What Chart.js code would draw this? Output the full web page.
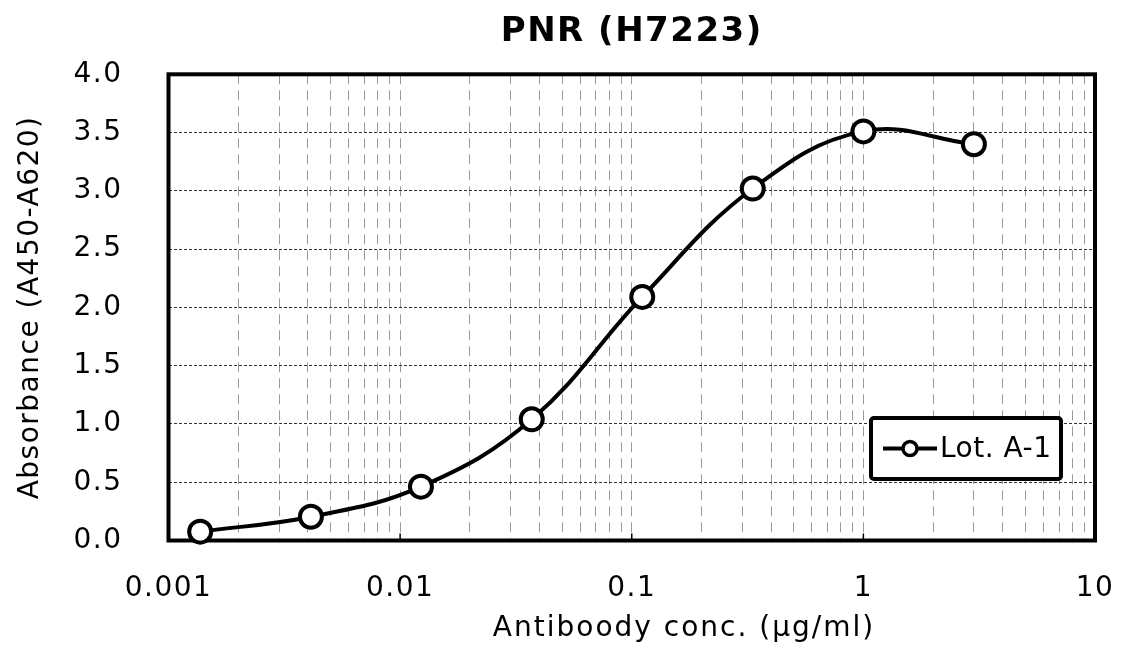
<!DOCTYPE html>
<html>
<head>
<meta charset="utf-8">
<title>PNR (H7223)</title>
<script src="https://cdn.jsdelivr.net/npm/chart.js@4.4.1/dist/chart.umd.min.js"></script>
<style>
    html, body { margin: 0; padding: 0; background: #fff; }
    canvas { display: block; }
</style>
</head>
<body>
<canvas id="elisaChart" width="1123" height="652"></canvas>
<script>
// Data (3-fold dilution series)
const concentrations = [0.00137, 0.00412, 0.0123, 0.037, 0.111, 0.333, 1, 3];
const absorbance = [0.076, 0.204, 0.462, 1.04, 2.09, 3.02, 3.51, 3.40];
const seriesLabel = 'Lot. A-1';

// Axis ticks
const decadeTicks = [0.001, 0.01, 0.1, 1, 10];
const minorSteps = [1, 2, 3, 4, 5, 6, 7, 8, 9];
const yTicks = [0, 0.5, 1, 1.5, 2, 2.5, 3, 3.5, 4];

const FONT = 'DejaVu Sans';
const SPACING = '1.5px'; // reference font runs wider than DejaVu

// wider text everywhere (set before measuring and before drawing)
const spacingPlugin = {
    id: 'spacing',
    beforeUpdate(chart) { chart.ctx.letterSpacing = SPACING; },
    beforeDraw(chart) { chart.ctx.letterSpacing = SPACING; }
};

// Full frame around the plot + small decade ticks on the bottom edge
const framePlugin = {
    id: 'frame',
    beforeDatasetsDraw(chart) {
        const { ctx, chartArea: a, scales } = chart;
        ctx.save();
        ctx.strokeStyle = '#000';
        ctx.lineWidth = 1.5;
        decadeTicks.forEach(v => {
            const x = scales.x.getPixelForValue(v);
            ctx.beginPath();
            ctx.moveTo(x, a.bottom);
            ctx.lineTo(x, a.bottom - 7);
            ctx.stroke();
        });
        ctx.lineWidth = 4;
        ctx.strokeRect(a.left, a.top, a.right - a.left, a.bottom - a.top);
        ctx.restore();
    }
};

// X axis title sits right of centre in the reference, so draw it here
const xTitlePlugin = {
    id: 'xTitle',
    afterDraw(chart) {
        const ctx = chart.ctx;
        ctx.save();
        ctx.fillStyle = '#000';
        ctx.font = `28px "${FONT}"`;
        ctx.letterSpacing = '2px';
        ctx.textAlign = 'center';
        ctx.textBaseline = 'middle';
        ctx.fillText('Antiboody conc. (\u00b5g/ml)', 684, 629);
        ctx.restore();
    }
};

// Boxed legend inside the plot, lower right
const boxLegendPlugin = {
    id: 'boxLegend',
    afterDraw(chart) {
        const ctx = chart.ctx;
        const ds = chart.data.datasets[0];
        const box = { x: 871, y: 418, w: 190, h: 61 };
        ctx.save();
        ctx.fillStyle = '#fff';
        ctx.strokeStyle = '#000';
        ctx.lineWidth = 4;
        ctx.beginPath();
        ctx.roundRect(box.x, box.y, box.w, box.h, 3);
        ctx.fill();
        ctx.stroke();

        const cy = box.y + box.h / 2;
        ctx.lineWidth = ds.borderWidth;
        ctx.beginPath();
        ctx.moveTo(883, cy);
        ctx.lineTo(937, cy);
        ctx.stroke();
        ctx.beginPath();
        ctx.arc(910, cy, 7, 0, Math.PI * 2);
        ctx.fillStyle = ds.pointBackgroundColor;
        ctx.fill();
        ctx.lineWidth = 3.5;
        ctx.stroke();

        ctx.fillStyle = '#000';
        ctx.font = `28px "${FONT}"`;
        ctx.letterSpacing = '0.5px';
        ctx.textAlign = 'left';
        ctx.textBaseline = 'middle';
        ctx.fillText(ds.label, 940, cy + 1);
        ctx.restore();
    }
};

const ctx = document.getElementById('elisaChart').getContext('2d');

new Chart(ctx, {
    type: 'line',
    data: {
        datasets: [{
            label: seriesLabel,
            data: concentrations.map((c, i) => ({ x: c, y: absorbance[i] })),
            borderColor: '#000',
            borderWidth: 4,
            pointRadius: 11,
            pointBorderWidth: 4,
            pointBackgroundColor: '#fff',
            pointBorderColor: '#000',
            tension: 0.4,
            clip: false
        }]
    },
    options: {
        responsive: false,
        animation: false,
        devicePixelRatio: 1,
        layout: { padding: { left: 0, right: 28, top: 0, bottom: 0 } },
        plugins: {
            legend: { display: false },
            tooltip: { enabled: false },
            title: {
                display: true,
                text: 'PNR (H7223)',
                color: '#000',
                fullSize: false,
                font: { family: FONT, size: 34, weight: 'bold' },
                padding: { top: 12, bottom: 21.5 }
            }
        },
        scales: {
            x: {
                type: 'logarithmic',
                min: 0.001,
                max: 10,
                afterFit(scale) {
                    scale.height = 111.5;
                    scale.paddingLeft = 0;
                    scale.paddingRight = 0;
                },
                afterBuildTicks(scale) {
                    const vals = [];
                    decadeTicks.forEach(d => {
                        minorSteps.forEach(m => {
                            const v = +(d * m).toPrecision(6);
                            if (v <= 10) vals.push(v);
                        });
                    });
                    scale.ticks = vals.map(v => ({ value: v }));
                },
                grid: { color: '#9a9a9a', lineWidth: 1, drawTicks: false },
                border: { display: false, dash: [10, 6] },
                ticks: {
                    autoSkip: false,
                    maxRotation: 0,
                    padding: 31,
                    color: '#000',
                    font: { family: FONT, size: 28 },
                    callback: (v) => decadeTicks.includes(+(+v).toPrecision(6)) ? String(+(+v).toPrecision(6)) : ''
                }
            },
            y: {
                min: 0,
                max: 4,
                afterFit(scale) { scale.width = 168.5; },
                afterBuildTicks(scale) {
                    scale.ticks = yTicks.map(v => ({ value: v }));
                },
                grid: { color: '#333', lineWidth: 1, drawTicks: false },
                border: { display: false, dash: [3, 2] },
                ticks: {
                    padding: 46,
                    color: '#000',
                    font: { family: FONT, size: 28 },
                    callback: (v) => (+v).toFixed(1)
                },
                title: {
                    display: true,
                    text: 'Absorbance (A450-A620)',
                    color: '#000',
                    font: { family: FONT, size: 28 },
                    padding: { top: 14, bottom: 0 }
                }
            }
        }
    },
    plugins: [spacingPlugin, framePlugin, xTitlePlugin, boxLegendPlugin]
});
</script>
</body>
</html>
